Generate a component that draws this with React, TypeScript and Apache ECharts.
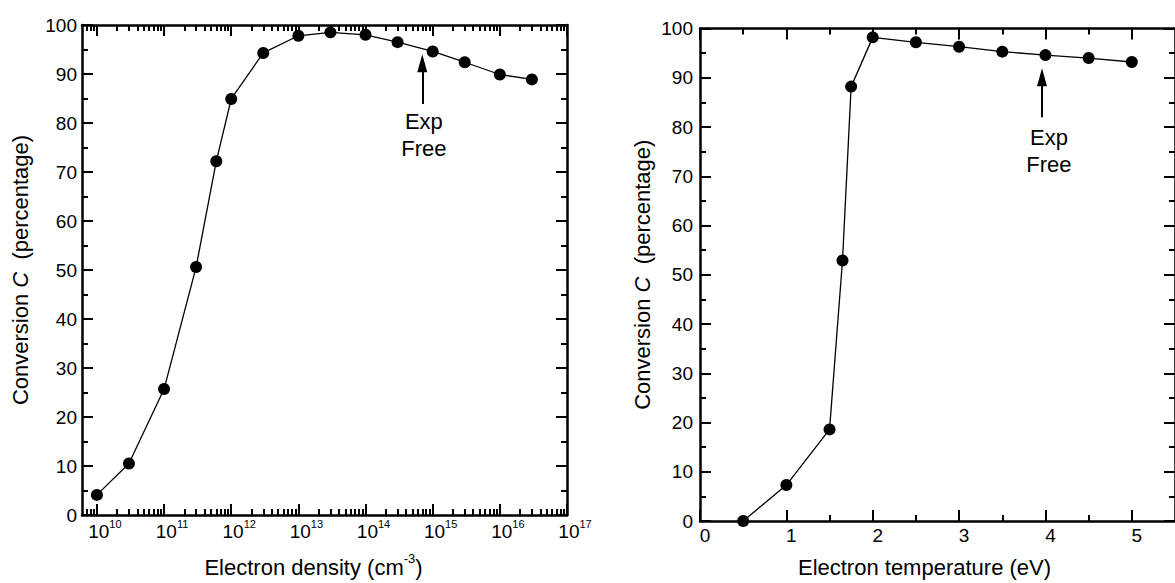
import React, { useEffect, useRef } from "react";
import * as echarts from "echarts";

// ---- data: left panel (conversion vs electron density) ----
const densities = [1e10, 3e10, 1e11, 3e11, 6e11, 1e12, 3e12, 1e13, 3e13, 1e14, 3e14, 1e15, 3e15, 1e16, 3e16];
const conversionByDensity = [4.1, 10.5, 25.7, 50.6, 72.2, 84.9, 94.3, 97.8, 98.5, 98.0, 96.5, 94.6, 92.4, 89.9, 88.9];
const densityMin = 6e9;
const densityMax = 1e17;
const densityDecades = [10, 11, 12, 13, 14, 15, 16, 17];
const minorMultipliers = [2, 3, 4, 5, 6, 7, 8, 9];

// ---- data: right panel (conversion vs electron temperature) ----
const temperatures = [0.5, 1, 1.5, 1.65, 1.75, 2, 2.5, 3, 3.5, 4, 4.5, 5];
const conversionByTemp = [0, 7.3, 18.6, 52.9, 88.2, 98.2, 97.2, 96.3, 95.3, 94.6, 94.0, 93.2];
const tempMin = 0;
const tempMax = 5.5;
const tempMajorTicks = [0, 1, 2, 3, 4, 5];
const tempMinorTicks = [0.5, 1.5, 2.5, 3.5, 4.5];

// ---- y axis ----
const convMin = 0;
const convMax = 100;
const convInterval = 10;

// ---- annotations ----
const noteText = "Exp\nFree";
const densityArrow = { x: 7e14, from: 83.9, to: 92.2 };
const densityNote = { x: 7.4e14, y: 77.6 };
const tempArrow = { x: 3.96, from: 82.0, to: 90.1 };
const tempNote = { x: 4.04, y: 75.1 };

const FONT = "'Liberation Sans', Arial, Helvetica, sans-serif";
const BLACK = "#000";

export default function App() {
  const ref = useRef<HTMLDivElement>(null);

  useEffect(() => {
    if (!ref.current) return;
    const chart = echarts.init(ref.current, null, { renderer: "svg" });

    const lmin = Math.log10(densityMin);
    const lmax = Math.log10(densityMax);
    const majorLog = densityDecades;
    const minorLog: number[] = [];
    for (let k = densityDecades[0] - 1; k < densityDecades[densityDecades.length - 1]; k++) {
      for (const m of minorMultipliers) {
        const v = k + Math.log10(m);
        if (v > lmin + 1e-6 && v < lmax - 1e-6) minorLog.push(v);
      }
    }

    const line = { show: true, onZero: false, lineStyle: { color: BLACK, width: 2.5 } };
    const noLine = { show: false, onZero: false };
    const tick = (vals: number[], len: number) => ({
      show: true,
      inside: true,
      length: len,
      customValues: vals,
      lineStyle: { color: BLACK, width: 2 },
    });

    const xAxisSet = (gridIndex: number, min: number, max: number, major: number[], minor: number[]) => [
      {
        type: "value", gridIndex, position: "bottom", min, max,
        axisLine: line, axisTick: tick(major, 11), splitLine: { show: false },
        axisLabel: { show: false },
      },
      {
        type: "value", gridIndex, position: "bottom", min, max,
        axisLine: noLine, axisTick: tick(minor, 6), splitLine: { show: false },
        axisLabel: { show: false },
      },
      {
        type: "value", gridIndex, position: "top", min, max,
        axisLine: line, axisTick: tick(major, 11), splitLine: { show: false },
        axisLabel: { show: false },
      },
      {
        type: "value", gridIndex, position: "top", min, max,
        axisLine: noLine, axisTick: tick(minor, 6), splitLine: { show: false },
        axisLabel: { show: false },
      },
    ];

    const leftX: any[] = xAxisSet(0, lmin, lmax, majorLog, minorLog);
    leftX[0].axisLabel = {
      show: true,
      customValues: majorLog,
      margin: 3,
      padding: [0, 0, 0, 16],
      formatter: (v: number) => `{b|10}{s|${Math.round(v)}}`,
      rich: {
        b: { fontSize: 19, lineHeight: 26, fontFamily: FONT, color: BLACK },
        s: { fontSize: 11, lineHeight: 11, verticalAlign: "top", fontFamily: FONT, color: BLACK },
      },
    };
    leftX[0].name = "{a|Electron density (cm}{s|-3}{a|)}";
    leftX[0].nameLocation = "middle";
    leftX[0].nameGap = 37;
    leftX[0].nameTextStyle = {
      padding: [0, 22, 0, 0],
      rich: {
        a: { fontSize: 22, lineHeight: 30, fontFamily: FONT, color: BLACK },
        s: { fontSize: 13, lineHeight: 13, verticalAlign: "top", fontFamily: FONT, color: BLACK },
      },
    };

    const rightX: any[] = xAxisSet(1, tempMin, tempMax, tempMajorTicks, tempMinorTicks);
    rightX[0].axisLabel = {
      show: true,
      customValues: tempMajorTicks,
      margin: 5,
      padding: [0, 0, 0, 10],
      fontSize: 19,
      fontFamily: FONT,
      color: BLACK,
    };
    rightX[0].name = "Electron temperature (eV)";
    rightX[0].nameLocation = "middle";
    rightX[0].nameGap = 35;
    rightX[0].nameTextStyle = { fontSize: 22, fontFamily: FONT, color: BLACK, padding: [0, 26, 0, 0] };

    const yAxisSet = (gridIndex: number, nameGap: number, labelMargin: number) => {
      const common = {
        type: "value", gridIndex, min: convMin, max: convMax, interval: convInterval,
        axisLine: line,
        axisTick: { show: true, inside: true, length: 11, lineStyle: { color: BLACK, width: 2 } },
        minorTick: { show: true, splitNumber: 2, length: 6, lineStyle: { color: BLACK, width: 2 } },
        splitLine: { show: false },
        minorSplitLine: { show: false },
      };
      return [
        {
          ...common,
          position: "left",
          axisLabel: { show: true, margin: labelMargin, fontSize: 19, fontFamily: FONT, color: BLACK },
          name: "{a|Conversion }{i|C}{a|  (percentage)}",
          nameLocation: "middle",
          nameRotate: 90,
          nameGap,
          nameTextStyle: {
            rich: {
              a: { fontSize: 22, lineHeight: 24, fontFamily: FONT, color: BLACK },
              i: { fontSize: 22, lineHeight: 24, fontStyle: "italic", fontFamily: FONT, color: BLACK },
            },
          },
        },
        { ...common, position: "right", axisLabel: { show: false } },
      ];
    };

    const arrow = (x: number, from: number, to: number) => ({
      silent: true,
      animation: false,
      label: { show: false },
      lineStyle: { color: BLACK, width: 2, type: "solid" },
      data: [
        [
          { coord: [x, from], symbol: "none" },
          { coord: [x, to], symbol: "triangle", symbolSize: [10, 18] },
        ],
      ],
    });
    const note = (x: number, y: number) => ({
      silent: true,
      animation: false,
      symbol: "rect",
      symbolSize: 1,
      itemStyle: { color: "rgba(0,0,0,0)" },
      label: {
        show: true, position: "inside", formatter: noteText,
        fontSize: 22, lineHeight: 27, color: BLACK, fontFamily: FONT, align: "center",
      },
      data: [{ coord: [x, y] }],
    });

    const seriesCommon = {
      type: "line",
      symbol: "circle",
      symbolSize: 12,
      clip: false,
      itemStyle: { color: BLACK },
      lineStyle: { color: BLACK, width: 1.3 },
      z: 5,
    };

    chart.setOption({
      animation: false,
      backgroundColor: "#fff",
      textStyle: { fontFamily: FONT },
      grid: [
        { left: 82, top: 25, width: 485, height: 497 },
        { left: 700, top: 28.5, width: 482, height: 493 },
      ],
      xAxis: [...leftX, ...rightX],
      yAxis: [...yAxisSet(0, 50, 5), ...yAxisSet(1, 46, 7)],
      series: [
        {
          ...seriesCommon,
          xAxisIndex: 0,
          yAxisIndex: 0,
          data: densities.map((d, i) => [Math.log10(d), conversionByDensity[i]]),
          markLine: arrow(Math.log10(densityArrow.x), densityArrow.from, densityArrow.to),
          markPoint: note(Math.log10(densityNote.x), densityNote.y),
        },
        {
          ...seriesCommon,
          xAxisIndex: 4,
          yAxisIndex: 2,
          data: temperatures.map((t, i) => [t, conversionByTemp[i]]),
          markLine: arrow(tempArrow.x, tempArrow.from, tempArrow.to),
          markPoint: note(tempNote.x, tempNote.y),
        },
      ],
    } as any);

    return () => chart.dispose();
  }, []);

  return (
    <div
      ref={ref}
      style={{ position: "absolute", left: 0, top: 0, width: 1175, height: 583, background: "#fff" }}
    />
  );
}
